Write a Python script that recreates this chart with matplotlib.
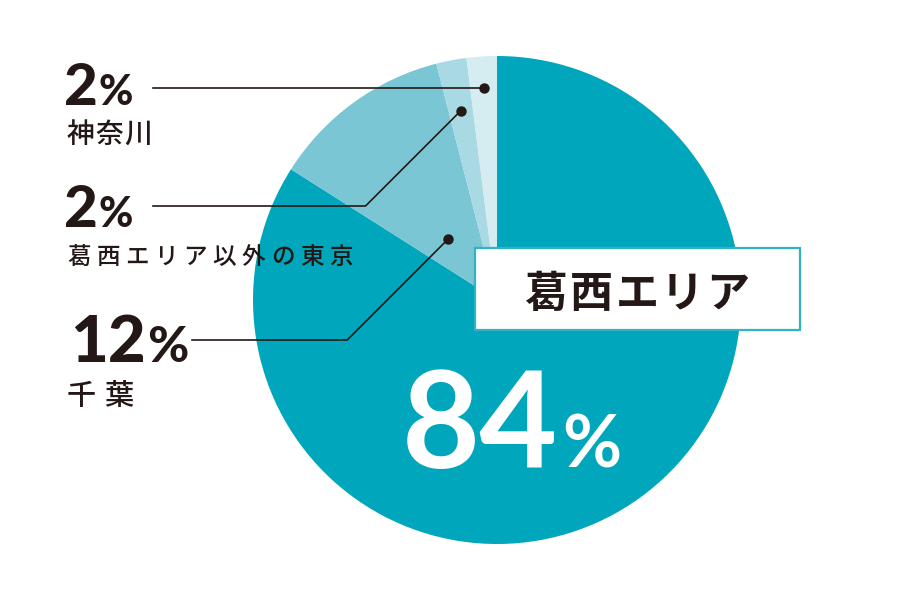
import matplotlib
matplotlib.use('Agg')
import matplotlib.pyplot as plt
from matplotlib.patches import Rectangle
import numpy as np

# ---- data ----
categories = ['葛西エリア', '千葉', '葛西エリア以外の東京', '神奈川']
values = [84, 12, 2, 2]
colors = ['#00A6BB', '#7AC6D4', '#A9DAE3', '#D5ECF1']

DARK = '#231815'
NUM_FONT = ['Lato', 'DejaVu Sans']
JP_FONT = ['Noto Sans CJK JP', 'DejaVu Sans']

fig = plt.figure(figsize=(9, 6), dpi=100)
ax = fig.add_axes([0, 0, 1, 1])


def Y(y):
    return 600 - y


CX, CY, R = 497, 300, 244
wedges, _ = ax.pie(values, colors=colors, startangle=90, counterclock=False,
                   center=(CX, Y(CY)), radius=R, frame=True,
                   wedgeprops=dict(linewidth=0))
ax.set_xlim(0, 900)
ax.set_ylim(0, 600)
ax.set_aspect('equal')
ax.axis('off')


def wedge_point(w, afrac, rfrac):
    t1, t2 = w.theta1, w.theta2
    a = np.deg2rad(t1 + (t2 - t1) * afrac)
    return CX + R * rfrac * np.cos(a), Y(CY) + R * rfrac * np.sin(a)


# ---- leaders ----
lw = 1.2
# 神奈川
px, py = wedge_point(wedges[3], 0.5, 0.87)
ax.plot([153, px], [py, py], color=DARK, lw=lw, zorder=5)
ax.plot(px, py, 'o', color=DARK, ms=6.5, zorder=6)
# 東京
px, py = wedge_point(wedges[2], 0.5, 0.79)
ey = Y(206)
ex = px - (py - ey)
ax.plot([153, ex, px], [ey, ey, py], color=DARK, lw=lw, zorder=5)
ax.plot(px, py, 'o', color=DARK, ms=6.5, zorder=6)
# 千葉
px, py = wedge_point(wedges[1], 0.57, 0.32)
ey = Y(340)
ex = px - (py - ey)
ax.plot([192, ex, px], [ey, ey, py], color=DARK, lw=lw, zorder=5)
ax.plot(px, py, 'o', color=DARK, ms=6.5, zorder=6)


def num(x, y, s, size, color=DARK, weight='black'):
    ax.text(x, Y(y), s, fontsize=size, fontweight=weight, family=NUM_FONT,
            color=color, ha='left', va='baseline', zorder=7)


def spaced(chars, x0, pitch, ybase, size, weight='medium', color=DARK):
    for i, ch in enumerate(chars):
        ax.text(x0 + i * pitch, Y(ybase), ch, fontsize=size, fontweight=weight,
                family=JP_FONT, color=color, ha='center', va='baseline', zorder=7)


# 神奈川 2%
num(64, 105, str(values[3]), 42)
num(99, 105, '%', 30)
spaced(categories[3], 80, 29, 143, 20)

# 東京 2%
num(64, 227, str(values[2]), 42)
num(99, 227, '%', 30)
spaced(categories[2], 79, 29.1, 264, 17)

# 千葉 12%
num(70, 362, str(values[1]), 47)
num(147, 362, '%', 36)
spaced(categories[1], 81, 38, 405, 21)

# 葛西エリア box
ax.add_patch(Rectangle((475, Y(330)), 325, 82, facecolor='white',
                       edgecolor='#2FB3C5', lw=1.6, zorder=6))
spaced(categories[0], 546, 45.5, 307, 31, weight='bold')

# 84%
num(402, 468, str(values[0]), 97, color='white', weight='bold')
num(562, 468, '%', 52, color='white', weight='bold')

fig.savefig('out.png', dpi=100)
